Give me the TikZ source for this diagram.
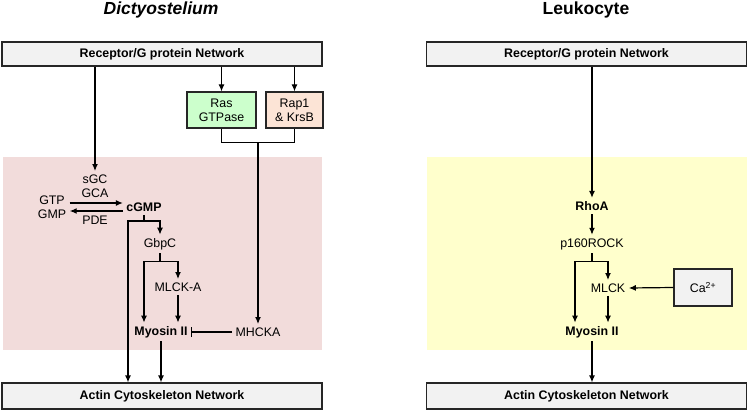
\documentclass[tikz,border=0pt]{standalone}
\usepackage{fontspec}
\setmainfont{Liberation Sans}
\usetikzlibrary{arrows}
\usetikzlibrary{arrows.meta}
\usetikzlibrary{positioning}
\tikzset{>={Latex[length=7pt,width=6pt]}}
\definecolor{netgray}{RGB}{242,242,242}
\definecolor{rasgreen}{RGB}{204,255,204}
\definecolor{rappeach}{RGB}{252,228,214}
\definecolor{dictypink}{RGB}{242,220,219}
\definecolor{leukoyellow}{RGB}{255,255,204}
\tikzset{
  lbl/.style={inner sep=3pt, align=center, font=\fontsize{12.4}{14}\selectfont},
  boldlbl/.style={lbl, font=\bfseries\fontsize{12.4}{14}\selectfont},
  netbox/.style={draw=black!85, fill=netgray, line width=1.2pt, minimum width=320pt,
    font=\bfseries\fontsize{12.4}{14}\selectfont},
  gtpasebox/.style={draw=black!85, line width=1.2pt, minimum height=36pt, align=center,
    font=\fontsize{12.4}{14}\selectfont},
  title/.style={font=\bfseries\fontsize{17.5}{20}\selectfont}
}

\begin{document}
\begin{tikzpicture}[x=1pt, y=-1pt, line width=1.2pt]
  \useasboundingbox (0,0) rectangle (750,412);
  % shaded regions
  \fill[dictypink] (3,157) rectangle (322,350);
  \fill[leukoyellow] (427,157) rectangle (747,350);

  % Dictyostelium
  \node[title] (titleL) at (161,10) {\itshape Dictyostelium};
  \node[netbox, minimum height=24pt] (recL) at (162,54) {Receptor/G protein Network};
  \node[netbox, minimum height=26pt] (actinL) at (162,396) {Actin Cytoskeleton Network};
  \node[gtpasebox, fill=rasgreen, minimum width=69pt] (ras) at (221.5,110) {Ras\\GTPase};
  \node[gtpasebox, fill=rappeach, minimum width=57pt] (rap) at (294.5,110) {Rap1\\\& KrsB};
  \node[lbl] (gca) at (95,186) {sGC\\GCA};
  \node[lbl] (gtp) at (52,207) {GTP\\GMP};
  \node[boldlbl] (cgmp) at (144,207) {cGMP};
  \node[lbl] (pde) at (95,220) {PDE};
  \node[lbl] (gbpc) at (160,244) {GbpC};
  \node[lbl] (mlcka) at (178,287) {MLCK-A};
  \node[boldlbl] (myosinL) at (161,332) {Myosin II};
  \node[lbl] (mhcka) at (258,332) {MHCKA};

  \draw[->] (recL.south -| gca.north) -- (gca.north);
  \draw[->] (recL.south -| ras.north) -- (ras.north);
  \draw[->] (recL.south -| rap.north) -- (rap.north);
  \draw (ras.south) -- ++(0,14) -| (rap.south);
  \coordinate (rasJoin) at (258,142);
  \draw[->] (rasJoin) -- (mhcka.north);
  \draw[->] ([yshift=4pt]gtp.east) -- ([yshift=4pt]gtp.east -| cgmp.west);
  \draw[->] ([yshift=-4pt]gtp.east -| cgmp.west) -- ([yshift=-4pt]gtp.east);
  \draw (cgmp.south) -- ++(0,6) coordinate (cgmpFork);
  \draw[->] (cgmpFork) -| (gbpc.north);
  \draw[->] (cgmpFork) -| (actinL.north -| 128,0);
  \draw (gbpc.south) -- ++(0,8) coordinate (gbpcFork);
  \draw[->] (gbpcFork) -| (mlcka.north);
  \draw[->] (gbpcFork) -| ([xshift=-17pt]myosinL.north);
  \draw[->] (mlcka.south) -- (mlcka.south |- myosinL.north);
  \draw[-{Bar[width=10pt]}] (mhcka.west) -- (myosinL.east);
  \draw[->] (myosinL.south) -- (myosinL.south |- actinL.north);

  % Leukocyte
  \node[title] (titleR) at (586,10) {Leukocyte};
  \node[netbox, minimum height=24pt] (recR) at (586.5,54) {Receptor/G protein Network};
  \node[netbox, minimum height=26pt] (actinR) at (586.5,396) {Actin Cytoskeleton Network};
  \node[boldlbl] (rhoa) at (592,206) {RhoA};
  \node[lbl] (rock) at (592,244) {p160ROCK};
  \node[lbl] (mlck) at (608,288) {MLCK};
  \node[boldlbl] (myosinR) at (592,332) {Myosin II};
  \node[draw=black!85, fill=netgray, line width=1.2pt, minimum width=58pt, minimum height=37pt,
    font=\fontsize{12.4}{14}\selectfont] (calcium) at (703,287.5) {Ca\textsuperscript{2+}};

  \draw[->] (recR.south -| rhoa.north) -- (rhoa.north);
  \draw[->] (rhoa) -- (rock);
  \draw (rock.south) -- ++(0,8) coordinate (rockFork);
  \draw[->] (rockFork) -| (mlck.north);
  \draw[->] (rockFork) -| ([xshift=-17pt]myosinR.north);
  \draw[->] (mlck.south) -- (mlck.south |- myosinR.north);
  \draw[->] (calcium.west) -- (mlck.east);
  \draw[->] (myosinR.south) -- (myosinR.south |- actinR.north);
\end{tikzpicture}
\end{document}
